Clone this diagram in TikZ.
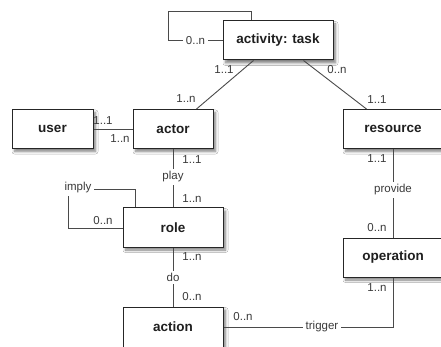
\documentclass[tikz,border=0pt]{standalone}
\usepackage{fontspec}
\setmainfont{Liberation Sans}
\usetikzlibrary{shadows.blur}
\definecolor{edgegray}{HTML}{4A4A4A}
\definecolor{boxline}{HTML}{262626}
\definecolor{labelgray}{HTML}{3A3A3A}
\tikzset{
  entity/.style={draw=boxline, line width=1pt, fill=white, minimum height=39pt,
    inner sep=0pt, font=\fontsize{13.5}{15}\selectfont\bfseries, text=black!88,
    blur shadow={shadow xshift=2.5pt, shadow yshift=-3pt, shadow blur steps=6,
      shadow blur radius=2.5pt, shadow opacity=50}},
  link/.style={draw=edgegray, line width=0.9pt},
  card/.style={font=\fontsize{11.5}{13}\selectfont, text=labelgray, inner sep=1pt},
  verb/.style={card, fill=white, inner sep=2.5pt}
}
\begin{document}
\begin{tikzpicture}[x=1pt,y=-1pt]
  \useasboundingbox[fill=white] (0,0) rectangle (441,347);

  % entities
  \node[entity, minimum width=110pt] (task) at (278,40.5) {activity: task};
  \node[entity, minimum width=81pt]  (user) at (52.5,129) {user};
  \node[entity, minimum width=80pt]  (actor) at (173,129) {actor};
  \node[entity, minimum width=100pt] (resource) at (393,129) {resource};
  \node[entity, minimum width=100pt] (role) at (173,227.5) {role};
  \node[entity, minimum width=100pt] (operation) at (393,257.5) {operation};
  \node[entity, minimum width=100pt, minimum height=40pt] (action) at (173,327) {action};

  % corner points of the bent connectors
  \coordinate (taskA) at (168,40.5);
  \coordinate (taskB) at (168,11);
  \coordinate (taskC) at (251,11);
  \coordinate (roleA) at (135,189);
  \coordinate (roleB) at (68,189);
  \coordinate (roleC) at (68,228);
  \coordinate (opA) at (393,327);

  % task recursion
  \draw[link] (task.west) -- (taskA) -- (taskB) -- (taskC) -- (taskC |- task.north);
  \node[verb] at (195.5,40.5) {0..n};

  % task -- actor, task -- resource
  \draw[link] ([xshift=31pt]task.south west) -- ([xshift=64pt]actor.north west);
  \draw[link] ([xshift=81pt]task.south west) -- ([xshift=24pt]resource.north west);
  \node[card] at (224,70) {1..1};
  \node[card] at (186,99) {1..n};
  \node[card] at (337,70) {0..n};
  \node[card] at (377,100) {1..1};

  % user -- actor
  \draw[link] (user.east) -- (actor.west);
  \node[card] at (103,121) {1..1};
  \node[card] at (120,139) {1..n};

  % actor -- role (play)
  \draw[link] (actor.south) -- (role.north);
  \node[card] at (192,160) {1..1};
  \node[verb] at (173,177) {play};
  \node[card] at (192,199) {1..n};

  % role recursion (imply)
  \draw[link] (roleA |- role.north) -- (roleA) -- (roleB) -- (roleC) -- (roleC -| role.west);
  \node[verb] at (78,188) {imply};
  \node[card] at (103,221) {0..n};

  % role -- action (do)
  \draw[link] (role.south) -- (action.north);
  \node[card] at (192,257) {1..n};
  \node[verb] at (173,277.5) {do};
  \node[card] at (192,297) {0..n};

  % resource -- operation (provide)
  \draw[link] (resource.south) -- (operation.north);
  \node[card] at (377,159) {1..1};
  \node[verb] at (393,190) {provide};
  \node[card] at (377,228) {0..n};

  % operation -- action (trigger)
  \draw[link] (operation.south) -- (opA) -- (action.east);
  \node[card] at (377,288) {1..n};
  \node[verb] at (322,327) {trigger};
  \node[card] at (243,317) {0..n};
\end{tikzpicture}
\end{document}
